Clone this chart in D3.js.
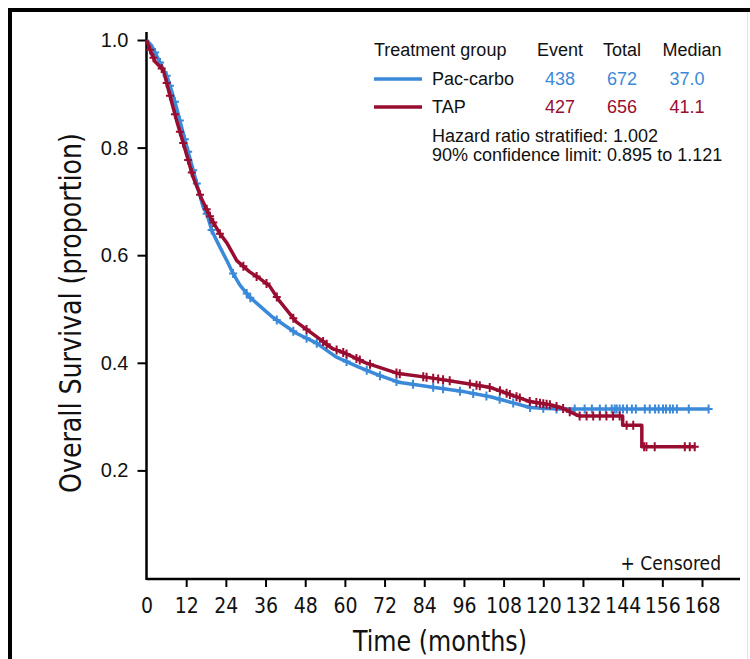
<!DOCTYPE html>
<html>
<head>
<meta charset="utf-8">
<script src="https://cdn.jsdelivr.net/npm/d3@7"></script>
<style>
  body { margin: 0; background: #fff; }
  svg { display: block; }
  .narrow { font-family: "Liberation Sans Narrow", "Arial Narrow", "DejaVu Sans Condensed", sans-serif; }
  .reg { font-family: "Liberation Sans", Arial, Helvetica, sans-serif; }
</style>
</head>
<body>
<div id="root"></div>
<script>
// Kaplan-Meier knots (months, proportion surviving)
const pacTime = [0, 1.5, 3.3, 6.3, 8.7, 11.1, 14.1, 17.1, 18.3, 19.8, 22.2, 24.3, 26.1, 28.2, 31.2, 38.1, 45.3, 51.3, 57.3, 64.2, 70.2, 76.2, 86.1, 96.3, 104, 110, 116, 121, 125, 170];
const pacSurv = [1, 0.99, 0.968, 0.931, 0.883, 0.827, 0.758, 0.69, 0.676, 0.645, 0.615, 0.59, 0.567, 0.545, 0.522, 0.485, 0.455, 0.437, 0.411, 0.392, 0.377, 0.364, 0.355, 0.346, 0.337, 0.327, 0.317, 0.315, 0.314, 0.314];

const tapTime = [0, 1.5, 2.7, 5.1, 7.2, 9.3, 11.7, 14.1, 16.8, 19.8, 22.2, 24.3, 27.3, 31.2, 34.2, 37.2, 40.2, 45.3, 51.3, 56.1, 60, 66.3, 70.2, 76.2, 86.1, 96.3, 104.1, 110, 116, 122, 125.7, 128.7, 131, 144, 144, 149.8, 149.8, 166];
const tapSurv = [1, 0.975, 0.959, 0.944, 0.894, 0.846, 0.796, 0.745, 0.703, 0.665, 0.64, 0.623, 0.59, 0.569, 0.557, 0.543, 0.515, 0.476, 0.449, 0.427, 0.418, 0.4, 0.392, 0.38, 0.372, 0.362, 0.354, 0.341, 0.328, 0.322, 0.316, 0.307, 0.301, 0.301, 0.284, 0.284, 0.244, 0.244];

// censored observations (months)
const pacCensor = [2.6, 4.1, 6.1, 7.1, 8.6, 10.1, 11.6, 12.6, 14.1, 15.2, 18.2, 19.7, 26.2, 30.3, 31.4, 39.4, 44.4, 48.4, 51.5, 60.5, 66.6, 70.6, 75.6, 80.6, 86.7, 89.7, 94.8, 98.8, 102.8, 106.8, 110.9, 116, 120, 124,
  129.5, 132.5, 134.7, 137.1, 138.9, 140.7, 141.6, 142.2, 143.1, 144.1, 145.3, 146.8, 148, 150.7, 152.2, 153.8, 154.9, 156.2, 157.1, 158.3, 159.2, 160.4, 164, 170];
const tapCensor = [1.1, 2.1, 4.6, 6.1, 7.1, 8.6, 10.1, 11.1, 12.6, 13.7, 16.2, 18.2, 19.2, 20.2, 22.2, 29.3, 33.3, 36.3, 39.4, 44.4, 48.4, 53.4, 54.5, 57.5, 59.5, 60.5, 63.5, 64.5, 67.6, 75.6, 76.6, 83.7, 84.7, 86.7, 88.2, 89.7, 91.7, 97.8, 99.8, 100.8, 103.8,
  106.9, 108.9, 109.9, 111.9, 112.9, 115.9, 117.9, 119, 120, 121, 122, 124, 126, 128, 131, 133.1, 135.1, 137.1, 139.1, 141.1, 143.1, 145.2, 147.2, 150.5, 151.2, 153.7, 162.8, 164.3, 165.8];

const xTicks = d3.range(0, 169, 12);
const yTicks = [0.2, 0.4, 0.6, 0.8, 1.0];

const groups = ['Pac-carbo', 'TAP'];
const events = [438, 427];
const totals = [672, 656];
const medians = ['37.0', '41.1'];
const colors = ['#3b89d9', '#990d31'];

const width = 750, height = 659;

const svg = d3.select('#root').append('svg')
  .attr('width', width)
  .attr('height', height);

// outer frame
svg.append('path')
  .attr('d', `M10,${height} V10 H${width}`)
  .attr('fill', 'none')
  .attr('stroke', '#000')
  .attr('stroke-width', 4);
svg.append('line')
  .attr('x1', 747.5).attr('x2', 747.5).attr('y1', 12).attr('y2', height)
  .attr('stroke', '#e4e4e4').attr('stroke-width', 1);

let x = d3.scaleLinear().domain([0, 168]).range([146.5, 702]),
  y = d3.scaleLinear().domain([0, 1]).range([578, 40]);

// axes
let xAxis = svg.append('g')
  .attr('transform', 'translate(0,579)')
  .call(d3.axisBottom(x).tickValues(xTicks).tickSize(8).tickPadding(11).tickSizeOuter(0));
xAxis.select('.domain').attr('d', `M${x(0)},0 H740`).attr('stroke-width', 2.5);
xAxis.selectAll('.tick line').attr('stroke-width', 2);
xAxis.selectAll('.tick text')
  .attr('class', 'narrow')
  .style('font-size', '21px')
  .attr('fill', '#111');
xAxis.selectAll('.tick').filter(d => d === 0).select('line').remove();

let yAxis = svg.append('g')
  .attr('transform', `translate(${x(0)},0)`)
  .call(d3.axisLeft(y).tickValues(yTicks).tickFormat(d3.format('.1f')).tickSize(9).tickPadding(9).tickSizeOuter(0));
yAxis.select('.domain').attr('d', 'M0,32 V580').attr('stroke-width', 2.5);
yAxis.selectAll('.tick line').attr('stroke-width', 2);
yAxis.selectAll('.tick text')
  .attr('class', 'reg')
  .style('font-size', '20px')
  .attr('fill', '#111');

// axis titles
svg.append('text')
  .attr('class', 'narrow')
  .attr('x', 440).attr('y', 651)
  .attr('text-anchor', 'middle')
  .attr('textLength', 174).attr('lengthAdjust', 'spacingAndGlyphs')
  .style('font-size', '29px')
  .attr('fill', '#111')
  .text('Time (months)');

svg.append('text')
  .attr('class', 'narrow')
  .attr('transform', 'translate(81,313) rotate(-90)')
  .attr('text-anchor', 'middle')
  .attr('textLength', 360).attr('lengthAdjust', 'spacingAndGlyphs')
  .style('font-size', '31px')
  .attr('fill', '#111')
  .text('Overall Survival (proportion)');

// survival value at time t, following the drawn curve
function survAt(times, surv, t) {
  let i = d3.bisectRight(times, t);
  if (i >= times.length) return surv[surv.length - 1];
  if (i === 0) return surv[0];
  let t0 = times[i - 1], t1 = times[i];
  if (t1 === t0) return surv[i];
  return surv[i - 1] + (surv[i] - surv[i - 1]) * (t - t0) / (t1 - t0);
}

let line = d3.line().x(d => x(d[0])).y(d => y(d[1]));

let series = [
  { times: pacTime, surv: pacSurv, censor: pacCensor, color: colors[0] },
  { times: tapTime, surv: tapSurv, censor: tapCensor, color: colors[1] }
];

series.forEach((s) => {
  let g = svg.append('g');
  g.append('path')
    .datum(d3.zip(s.times, s.surv))
    .attr('d', line)
    .attr('fill', 'none')
    .attr('stroke', s.color)
    .attr('stroke-width', 3.5)
    .attr('stroke-linejoin', 'round');

  g.selectAll('.censor')
    .data(s.censor)
    .enter()
    .append('path')
    .attr('class', 'censor')
    .attr('transform', d => `translate(${x(d)},${y(survAt(s.times, s.surv, d))})`)
    .attr('d', 'M-4,0H4M0,-4.5V4.5')
    .attr('stroke', s.color)
    .attr('stroke-width', 2);
});

// legend table
let legend = svg.append('g').attr('class', 'reg').style('font-size', '18px');
legend.append('text').attr('x', 374).attr('y', 56).attr('fill', '#111').text('Treatment group');
legend.append('text').attr('x', 560).attr('y', 56).attr('text-anchor', 'middle').attr('fill', '#111').text('Event');
legend.append('text').attr('x', 622).attr('y', 56).attr('text-anchor', 'middle').attr('fill', '#111').text('Total');
legend.append('text').attr('x', 692).attr('y', 56).attr('text-anchor', 'middle').attr('fill', '#111').text('Median');

groups.forEach((name, i) => {
  let base = 85 + i * 28;
  legend.append('line')
    .attr('x1', 374).attr('x2', 422)
    .attr('y1', base - 6).attr('y2', base - 6)
    .attr('stroke', colors[i]).attr('stroke-width', 3.5);
  legend.append('text').attr('x', 432).attr('y', base).attr('fill', '#111').text(name);
  legend.append('text').attr('x', 560).attr('y', base).attr('text-anchor', 'middle').attr('fill', colors[i]).text(events[i]);
  legend.append('text').attr('x', 622).attr('y', base).attr('text-anchor', 'middle').attr('fill', colors[i]).text(totals[i]);
  legend.append('text').attr('x', 687).attr('y', base).attr('text-anchor', 'middle').attr('fill', colors[i]).text(medians[i]);
});

legend.append('text').attr('x', 432).attr('y', 142).attr('fill', '#111').text('Hazard ratio stratified: 1.002');
legend.append('text').attr('x', 432).attr('y', 161).attr('fill', '#111').text('90% confidence limit: 0.895 to 1.121');

svg.append('text')
  .attr('class', 'narrow')
  .attr('x', 721).attr('y', 570)
  .attr('text-anchor', 'end')
  .style('font-size', '19px')
  .attr('fill', '#111')
  .text('+ Censored');
</script>
</body>
</html>
